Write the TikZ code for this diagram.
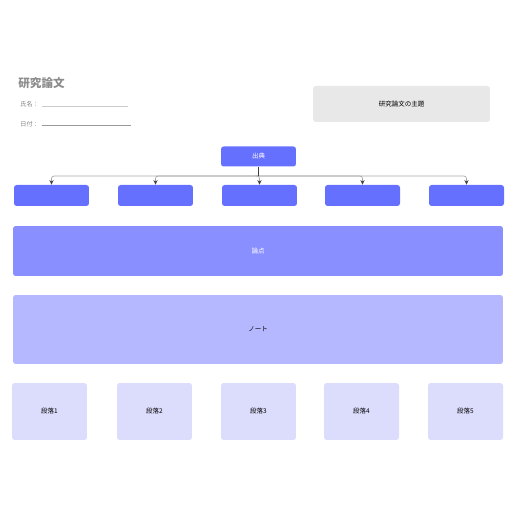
\documentclass[tikz,border=0pt]{standalone}
\usepackage{fontspec}
\newfontfamily\cjk{Noto Sans CJK JP}
\usetikzlibrary{arrows.meta}
\tikzset{>={Stealth[length=2.6pt,width=2.4pt,black!75]}}
\definecolor{srcblue}{HTML}{6670FF}
\definecolor{mainblue}{HTML}{8A8FFF}
\definecolor{noteblue}{HTML}{B5B8FF}
\definecolor{parblue}{HTML}{DCDCFC}
\definecolor{topicgray}{HTML}{E8E8E8}
\tikzset{
  box/.style={rounded corners=1.5pt, inner sep=0pt, font=\cjk\fontsize{3.7}{4.5}\selectfont},
  srcbox/.style={box, fill=srcblue, text=white, minimum width=1.5cm, minimum height=0.4cm},
  parbox/.style={box, fill=parblue, minimum width=1.5cm, minimum height=1.14cm},
  field/.style={anchor=west, inner sep=0pt, text=gray, font=\cjk\fontsize{3.5}{4}\selectfont},
  link/.style={->, gray!70, thin, rounded corners=1.5pt},
}
\begin{document}
\begin{tikzpicture}[x=0.02cm, y=-0.02cm]
    \useasboundingbox (0,0) rectangle (516,516);

    % header
    \node [anchor=west, inner sep=0pt, text=gray!90, font=\cjk\bfseries\fontsize{6.6}{8}\selectfont] (title) at (18,83) {研究論文};
    \node [field] (name) at (20,104) {氏名：};
    \node [field] (date) at (20,124) {日付：};
    \draw [gray!40, thin] (42,106.5) -- (128,106.5);
    \draw [gray!80, thin] (42,125.5) -- (131,125.5);
    \node [box, fill=topicgray, minimum width=3.54cm, minimum height=0.72cm] (topic) at (401.5,104) {研究論文の主題};

    % sources
    \node [srcbox] (src) at (258.5,156.5) {出典};
    \foreach \x [count=\i] in {51.5,155.5,259.5,362.5,466.5}
      \node [srcbox, minimum height=0.42cm] (s\i) at (\x,195.5) {};
    \coordinate (j) at (258.5,176);
    \foreach \i in {1,...,5}
      \draw [link] (j) -| (s\i.north);
    \draw [black!75, thin] (src.south) -- (j);

    % body
    \node [box, fill=mainblue, text=white, minimum width=9.8cm, minimum height=1cm] (thesis) at (258,251) {論点};
    \node [box, fill=noteblue, minimum width=9.8cm, minimum height=1.38cm] (notes) at (258,329.5) {ノート};

    % paragraphs
    \foreach \x [count=\i] in {49.5,154.5,258.5,361.5,465.5}
      \node [parbox] (p\i) at (\x,411.5) {段落\i};
\end{tikzpicture}
\end{document}
